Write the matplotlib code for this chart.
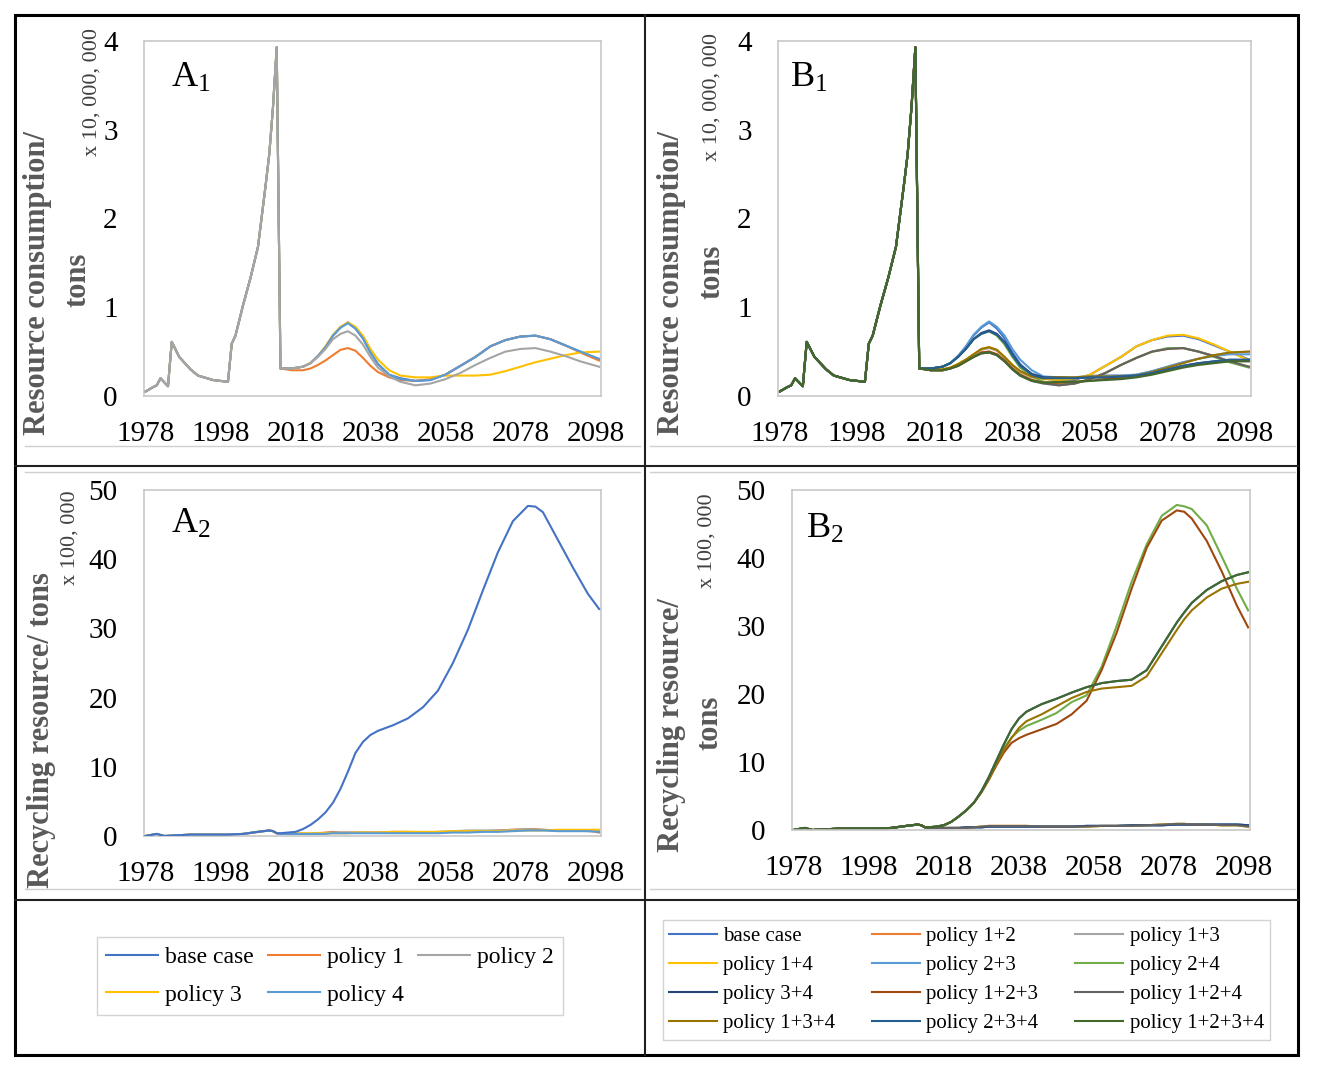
import matplotlib
matplotlib.use('Agg')
import matplotlib.pyplot as plt
from matplotlib.lines import Line2D
from matplotlib.patches import Rectangle

plt.rcParams['font.family'] = ['Liberation Serif', 'DejaVu Serif']
plt.rcParams['mathtext.fontset'] = 'custom'
plt.rcParams['mathtext.rm'] = 'Liberation Serif'
plt.rcParams['mathtext.it'] = 'Liberation Serif:italic'

W, H = 1318, 1069

# ---------------- data ----------------
# common history of resource consumption (x 10,000,000 tons)
hist_years = [1978, 1980, 1981, 1982, 1984, 1985, 1987, 1990, 1992, 1996, 2000,
              2001, 2002, 2004, 2006, 2008, 2010, 2011, 2012, 2013]
hist_cons = [0.05, 0.10, 0.12, 0.20, 0.11, 0.61, 0.44, 0.30, 0.23, 0.18, 0.16,
             0.59, 0.68, 1.02, 1.33, 1.68, 2.36, 2.72, 3.25, 3.93]

cons_years = [2014, 2017, 2020, 2022, 2024, 2026, 2028, 2030, 2032, 2034, 2036, 2038, 2040, 2043,
              2046, 2050, 2054, 2058, 2062, 2066, 2070, 2074, 2078, 2082, 2086, 2090, 2094, 2099]

# A1
a1_base = [0.31, 0.31, 0.33, 0.37, 0.45, 0.55, 0.68, 0.77, 0.83, 0.76, 0.65, 0.49, 0.36, 0.24,
           0.20, 0.17, 0.18, 0.24, 0.34, 0.44, 0.56, 0.63, 0.67, 0.68, 0.64, 0.57, 0.50, 0.41]
a1_p1 = [0.31, 0.29, 0.29, 0.31, 0.35, 0.40, 0.46, 0.52, 0.54, 0.51, 0.43, 0.34, 0.27, 0.21,
         0.18, 0.17, 0.19, 0.24, 0.34, 0.44, 0.56, 0.63, 0.67, 0.68, 0.64, 0.57, 0.49, 0.40]
a1_p2 = [0.31, 0.31, 0.33, 0.37, 0.44, 0.53, 0.64, 0.70, 0.73, 0.68, 0.58, 0.44, 0.32, 0.22,
         0.16, 0.12, 0.14, 0.19, 0.26, 0.35, 0.43, 0.50, 0.53, 0.54, 0.50, 0.45, 0.39, 0.33]
a1_p3 = [0.31, 0.31, 0.33, 0.37, 0.45, 0.56, 0.69, 0.78, 0.83, 0.78, 0.68, 0.53, 0.41, 0.29,
         0.23, 0.21, 0.21, 0.23, 0.23, 0.23, 0.24, 0.28, 0.33, 0.38, 0.42, 0.46, 0.49, 0.50]
a1_p4 = [0.31, 0.31, 0.33, 0.37, 0.45, 0.55, 0.68, 0.77, 0.82, 0.76, 0.65, 0.49, 0.36, 0.24,
         0.19, 0.17, 0.18, 0.24, 0.34, 0.44, 0.56, 0.63, 0.67, 0.68, 0.64, 0.57, 0.50, 0.42]

# B1
b1_base = a1_base
b1_p12 = [0.31, 0.29, 0.29, 0.31, 0.34, 0.39, 0.44, 0.49, 0.50, 0.47, 0.40, 0.31, 0.24, 0.18,
          0.15, 0.12, 0.14, 0.19, 0.26, 0.35, 0.43, 0.50, 0.53, 0.54, 0.50, 0.45, 0.39, 0.33]
b1_p13 = [0.31, 0.29, 0.29, 0.31, 0.35, 0.40, 0.46, 0.52, 0.54, 0.51, 0.43, 0.34, 0.27, 0.21,
          0.19, 0.21, 0.21, 0.23, 0.23, 0.23, 0.24, 0.28, 0.33, 0.38, 0.42, 0.46, 0.49, 0.50]
b1_p14 = [0.31, 0.30, 0.30, 0.32, 0.36, 0.41, 0.47, 0.53, 0.55, 0.52, 0.44, 0.35, 0.28, 0.22,
          0.19, 0.18, 0.19, 0.24, 0.34, 0.44, 0.56, 0.63, 0.68, 0.69, 0.65, 0.58, 0.50, 0.40]
b1_p23 = [0.31, 0.31, 0.33, 0.37, 0.45, 0.56, 0.69, 0.78, 0.84, 0.78, 0.68, 0.53, 0.41, 0.29,
          0.22, 0.21, 0.21, 0.22, 0.23, 0.23, 0.24, 0.28, 0.33, 0.38, 0.42, 0.45, 0.47, 0.47]
b1_p24 = [0.31, 0.31, 0.33, 0.37, 0.44, 0.53, 0.64, 0.70, 0.73, 0.68, 0.58, 0.44, 0.32, 0.22,
          0.16, 0.13, 0.14, 0.19, 0.26, 0.35, 0.43, 0.50, 0.54, 0.54, 0.50, 0.44, 0.38, 0.32]
b1_p34 = [0.31, 0.31, 0.33, 0.37, 0.44, 0.53, 0.64, 0.71, 0.74, 0.70, 0.61, 0.47, 0.35, 0.25,
          0.21, 0.21, 0.20, 0.21, 0.21, 0.22, 0.23, 0.26, 0.30, 0.34, 0.37, 0.39, 0.40, 0.40]
b1_p123 = [0.31, 0.29, 0.29, 0.31, 0.34, 0.39, 0.44, 0.49, 0.50, 0.47, 0.40, 0.31, 0.24, 0.18,
           0.15, 0.15, 0.16, 0.17, 0.19, 0.20, 0.22, 0.25, 0.29, 0.33, 0.36, 0.38, 0.40, 0.40]
b1_p124 = [0.31, 0.29, 0.29, 0.31, 0.34, 0.39, 0.44, 0.48, 0.49, 0.46, 0.39, 0.30, 0.23, 0.17,
           0.14, 0.12, 0.14, 0.19, 0.26, 0.35, 0.43, 0.50, 0.53, 0.54, 0.50, 0.45, 0.39, 0.33]
b1_p134 = [0.31, 0.30, 0.30, 0.32, 0.36, 0.41, 0.47, 0.53, 0.55, 0.52, 0.44, 0.35, 0.28, 0.22,
           0.20, 0.21, 0.21, 0.22, 0.22, 0.22, 0.23, 0.27, 0.32, 0.37, 0.42, 0.46, 0.49, 0.50]
b1_p234 = [0.31, 0.31, 0.33, 0.37, 0.44, 0.53, 0.64, 0.70, 0.73, 0.69, 0.60, 0.46, 0.34, 0.24,
           0.20, 0.20, 0.20, 0.21, 0.21, 0.22, 0.23, 0.26, 0.30, 0.34, 0.37, 0.39, 0.41, 0.41]
b1_p1234 = [0.31, 0.29, 0.29, 0.31, 0.34, 0.39, 0.44, 0.48, 0.49, 0.46, 0.39, 0.30, 0.23, 0.17,
            0.15, 0.16, 0.16, 0.17, 0.18, 0.19, 0.21, 0.24, 0.28, 0.32, 0.35, 0.37, 0.39, 0.39]

# common history of recycling resource (x 100,000 tons)
rec_hist_years = [1978, 1981, 1983, 1990, 2000, 2004, 2008, 2011, 2012, 2013]
rec_hist = [0.0, 0.3, 0.0, 0.2, 0.2, 0.3, 0.6, 0.8, 0.7, 0.4]

rec_years = [2014, 2016, 2018, 2020, 2022, 2024, 2026, 2028, 2030, 2032, 2034, 2036, 2038, 2040, 2044,
             2048, 2052, 2056, 2060, 2064, 2068, 2072, 2076, 2080, 2082, 2084, 2088, 2092, 2096, 2099]

a2_base = [0.4, 0.5, 0.6, 1.0, 1.6, 2.4, 3.4, 4.8, 6.8, 9.3, 12.0, 13.6, 14.6, 15.2, 16.0,
           17.0, 18.6, 21.0, 25.0, 29.8, 35.5, 41.0, 45.5, 47.7, 47.6, 46.8, 42.8, 38.8, 35.0, 32.8]
a2_p1 = [0.3, 0.3, 0.3, 0.3, 0.3, 0.4, 0.5, 0.6, 0.5, 0.5, 0.5, 0.5, 0.5, 0.5, 0.6,
         0.6, 0.5, 0.5, 0.6, 0.6, 0.7, 0.8, 0.9, 1.0, 1.0, 0.9, 0.8, 0.8, 0.8, 0.5]
a2_p2 = [0.3, 0.3, 0.3, 0.3, 0.3, 0.4, 0.4, 0.5, 0.5, 0.5, 0.5, 0.5, 0.5, 0.5, 0.5,
         0.5, 0.5, 0.6, 0.7, 0.8, 0.8, 0.8, 0.9, 1.0, 0.9, 0.9, 0.8, 0.8, 0.7, 0.7]
a2_p3 = [0.3, 0.3, 0.4, 0.4, 0.4, 0.4, 0.4, 0.4, 0.4, 0.4, 0.5, 0.5, 0.5, 0.5, 0.6,
         0.6, 0.6, 0.6, 0.7, 0.7, 0.7, 0.7, 0.8, 0.8, 0.8, 0.8, 0.9, 0.9, 0.9, 0.9]
a2_p4 = [0.3, 0.3, 0.3, 0.3, 0.3, 0.3, 0.3, 0.4, 0.4, 0.4, 0.4, 0.4, 0.4, 0.4, 0.4,
         0.4, 0.4, 0.4, 0.5, 0.5, 0.6, 0.6, 0.7, 0.8, 0.8, 0.8, 0.7, 0.7, 0.7, 0.6]

b2_low = [0.3, 0.3, 0.3, 0.3, 0.3, 0.4, 0.4, 0.4, 0.5, 0.5, 0.5, 0.5, 0.5, 0.5, 0.5,
          0.5, 0.5, 0.6, 0.6, 0.6, 0.7, 0.7, 0.7, 0.8, 0.8, 0.8, 0.8, 0.8, 0.8, 0.7]
b2_low2 = [0.3, 0.3, 0.3, 0.3, 0.3, 0.3, 0.4, 0.5, 0.6, 0.6, 0.6, 0.6, 0.6, 0.6, 0.5,
           0.5, 0.5, 0.5, 0.6, 0.6, 0.6, 0.7, 0.8, 0.9, 0.9, 0.8, 0.8, 0.7, 0.7, 0.5]
b2_p24 = [0.4, 0.5, 0.7, 1.2, 2.0, 2.9, 4.0, 5.6, 7.6, 9.9, 12.0, 13.6, 14.6, 15.3, 16.2,
          17.2, 18.8, 19.8, 24.0, 30.0, 36.5, 42.0, 46.2, 47.8, 47.6, 47.2, 44.8, 40.2, 35.5, 32.3]
b2_p123 = [0.4, 0.5, 0.7, 1.2, 2.0, 2.9, 4.0, 5.5, 7.4, 9.5, 11.4, 12.8, 13.5, 14.0, 14.8,
           15.6, 17.0, 19.0, 23.5, 29.0, 35.5, 41.5, 45.5, 47.0, 46.8, 45.8, 42.5, 38.0, 33.0, 29.8]
b2_p134 = [0.4, 0.5, 0.7, 1.2, 2.0, 2.9, 4.0, 5.6, 7.5, 9.7, 11.8, 13.5, 15.0, 16.0, 17.0,
           18.2, 19.4, 20.3, 20.8, 21.0, 21.2, 22.6, 26.0, 29.4, 31.0, 32.3, 34.2, 35.5, 36.2, 36.5]
b2_p1234 = [0.4, 0.5, 0.7, 1.2, 2.0, 2.9, 4.0, 5.7, 7.8, 10.2, 12.6, 14.8, 16.4, 17.4, 18.5,
            19.3, 20.2, 21.0, 21.6, 21.9, 22.1, 23.5, 27.0, 30.5, 32.0, 33.4, 35.3, 36.6, 37.5, 37.9]

a_labels = ['base case', 'policy 1', 'policy 2', 'policy 3', 'policy 4']
a_colors = ['#4472C4', '#ED7D31', '#A5A5A5', '#FFC000', '#5B9BD5']
b_labels = ['base case', 'policy 1+2', 'policy 1+3', 'policy 1+4', 'policy 2+3', 'policy 2+4',
            'policy 3+4', 'policy 1+2+3', 'policy 1+2+4', 'policy 1+3+4', 'policy 2+3+4',
            'policy 1+2+3+4']
b_colors = ['#4472C4', '#ED7D31', '#A5A5A5', '#FFC000', '#5B9BD5', '#70AD47',
            '#264478', '#9E480E', '#636363', '#997300', '#255E91', '#43682B']

a1_series = [a1_base, a1_p1, a1_p2, a1_p3, a1_p4]
a2_series = [a2_base, a2_p1, a2_p2, a2_p3, a2_p4]
b1_series = [b1_base, b1_p12, b1_p13, b1_p14, b1_p23, b1_p24, b1_p34, b1_p123,
             b1_p124, b1_p134, b1_p234, b1_p1234]
b2_series = [b2_low, b2_low2, b2_low, b2_low2, b2_low, b2_p24, b2_low, b2_p123,
             b2_low2, b2_p134, b2_p1234, b2_p1234]

x_ticks = [1978, 1998, 2018, 2038, 2058, 2078, 2098]


def px_axes(fig, left, top, right, bottom):
    return fig.add_axes([left / W, 1 - bottom / H, (right - left) / W, (bottom - top) / H])


def style_axes(ax, ymax, ystep):
    ax.set_xlim(1977.6, 2099.5)
    ax.set_ylim(0, ymax)
    ax.set_xticks(x_ticks)
    ax.set_yticks(range(0, ymax + 1, ystep))
    ax.tick_params(length=0, labelsize=21)
    ax.tick_params(axis='y', pad=19)
    ax.tick_params(axis='x', pad=18)
    for s in ax.spines.values():
        s.set_color('#C8C8C8')
        s.set_linewidth(1.2)


def draw(ax, hx, hy, px, series, colors, top=None):
    lines = []
    for i, (vals, c) in enumerate(zip(series, colors)):
        z = 5 if i == top else 2
        ln, = ax.plot(hx + px, hy + vals, color=c, lw=1.5, zorder=z)
        lines.append(ln)
    return lines


fig = plt.figure(figsize=(W / 100, H / 100), dpi=100)

# panel A1
ax_a1 = px_axes(fig, 144, 41, 601, 396)
a_lines = draw(ax_a1, hist_years, hist_cons, cons_years, a1_series, a_colors, top=2)
style_axes(ax_a1, 4, 1)
ax_a1.text(0.06, 0.895, r'$\mathrm{A}_1$', transform=ax_a1.transAxes, fontsize=26, va='center')

# panel B1
ax_b1 = px_axes(fig, 778, 41, 1251, 396)
b_lines = draw(ax_b1, hist_years, hist_cons, cons_years, b1_series, b_colors)
style_axes(ax_b1, 4, 1)
ax_b1.text(0.025, 0.895, r'$\mathrm{B}_1$', transform=ax_b1.transAxes, fontsize=26, va='center')

# panel A2
ax_a2 = px_axes(fig, 144, 490, 601, 836)
draw(ax_a2, rec_hist_years, rec_hist, rec_years, a2_series, a_colors, top=0)
style_axes(ax_a2, 50, 10)
ax_a2.text(0.06, 0.9, r'$\mathrm{A}_2$', transform=ax_a2.transAxes, fontsize=26, va='center')

# panel B2
ax_b2 = px_axes(fig, 792, 490, 1250, 830)
draw(ax_b2, rec_hist_years, rec_hist, rec_years, b2_series, b_colors)
style_axes(ax_b2, 50, 10)
ax_b2.text(0.03, 0.885, r'$\mathrm{B}_2$', transform=ax_b2.transAxes, fontsize=26, va='center')

# axis titles
lab = dict(rotation=90, ha='center', va='center', fontsize=22, fontweight='bold', color='#595959')
unit = dict(rotation=90, ha='center', va='center', fontsize=16, color='#404040')
fig.text(38 / W, 1 - 283 / H, 'Resource consumption/', **lab)
fig.text(78 / W, 1 - 280 / H, 'tons', **lab)
fig.text(92 / W, 1 - 92 / H, 'x 10, 000, 000', **unit)
fig.text(672 / W, 1 - 283 / H, 'Resource consumption/', **lab)
fig.text(712 / W, 1 - 272 / H, 'tons', **lab)
fig.text(712 / W, 1 - 97 / H, 'x 10, 000, 000', **unit)
fig.text(42 / W, 1 - 730 / H, 'Recycling resource/ tons', **lab)
fig.text(70 / W, 1 - 538 / H, 'x 100, 000', **unit)
fig.text(672 / W, 1 - 725 / H, 'Recycling resource/', **lab)
fig.text(710 / W, 1 - 723 / H, 'tons', **lab)
fig.text(707 / W, 1 - 541 / H, 'x 100, 000', **unit)

# legends
a_order = [0, 3, 1, 4, 2]
leg_a = fig.legend([a_lines[i] for i in a_order], [a_labels[i] for i in a_order], ncol=3,
                   loc='upper left', bbox_to_anchor=(97 / W, 1 - 1018 / H, 466 / W, 81 / H),
                   mode='expand', borderaxespad=0, fancybox=False, edgecolor='#C8C8C8',
                   fontsize=17, handlelength=2.2, handletextpad=0.3, labelspacing=0.68,
                   borderpad=0.4)
leg_a.get_frame().set_linewidth(1.0)
b_order = [0, 3, 6, 9, 1, 4, 7, 10, 2, 5, 8, 11]
leg_b = fig.legend([b_lines[i] for i in b_order], [b_labels[i] for i in b_order], ncol=3,
                   loc='upper left', bbox_to_anchor=(663 / W, 1 - 1035 / H, 607 / W, 115 / H),
                   mode='expand', borderaxespad=0, fancybox=False, edgecolor='#C8C8C8',
                   fontsize=15, handlelength=2.3, handletextpad=0.3, labelspacing=0.46,
                   borderpad=0.3)
leg_b.get_frame().set_linewidth(1.0)


# cell borders
def hline(y, x0, x1, color, lw):
    fig.add_artist(Line2D([x0 / W, x1 / W], [1 - y / H, 1 - y / H], color=color, lw=lw))


def vline(x, y0, y1, color, lw):
    fig.add_artist(Line2D([x / W, x / W], [1 - y0 / H, 1 - y1 / H], color=color, lw=lw))


for y in (446, 472, 889):
    hline(y, 25, 640, '#D0D0D0', 1.0)
    hline(y, 650, 1295, '#D0D0D0', 1.0)
hline(466, 15, 1298, '#202020', 1.5)
hline(900, 15, 1298, '#202020', 1.5)
vline(645, 15, 1055, '#202020', 1.5)
fig.add_artist(Rectangle((15 / W, 1 - 1055 / H), 1283 / W, 1040 / H, fill=False,
                         edgecolor='black', lw=2.2, transform=fig.transFigure))

fig.savefig('out.png', dpi=100)
